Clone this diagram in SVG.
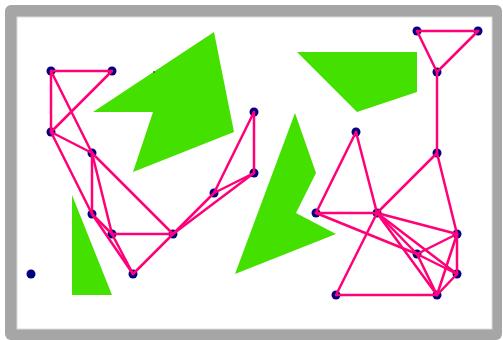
<svg xmlns="http://www.w3.org/2000/svg" width="503" height="340" viewBox="0 0 503 340">
<style>
.obs{fill:#44e000}
.n{fill:#000080}
.e{stroke:#ff0078;stroke-width:2.5;fill:none;stroke-linecap:round}
</style>
<rect x="5" y="5" width="497" height="335" rx="6" fill="#a6a6a6"/>
<rect x="17" y="17" width="475" height="312" fill="#ffffff" stroke="#dcdcdc" stroke-width="1"/>
<g id="obstacles">
<polygon class="obs" points="214,32 234,132 133,172 153,112 93,112"/>
<polygon class="obs" points="72,195 72,295 112,295"/>
<polygon class="obs" points="295,113 316,173 296,213 336,234 235,274"/>
<polygon class="obs" points="297,52 417,52 417,92 357,112"/>
</g>
<g id="nodes">
<g id="nA"><circle class="n" cx="51" cy="71" r="4.5"/></g>
<g id="nB"><circle class="n" cx="112" cy="71" r="4.5"/></g>
<g id="nC"><circle class="n" cx="51" cy="132" r="4.5"/></g>
<g id="nD"><circle class="n" cx="92" cy="153" r="4.5"/></g>
<g id="nE"><circle class="n" cx="92" cy="214" r="4.5"/></g>
<g id="nF"><circle class="n" cx="112" cy="234" r="4.5"/></g>
<g id="nG"><circle class="n" cx="133" cy="274" r="4.5"/></g>
<g id="nH"><circle class="n" cx="173" cy="234" r="4.5"/></g>
<g id="nI"><circle class="n" cx="214" cy="193" r="4.5"/></g>
<g id="nJ"><circle class="n" cx="254" cy="173" r="4.5"/></g>
<g id="nK"><circle class="n" cx="254" cy="112" r="4.5"/></g>
<g id="nL"><circle class="n" cx="31" cy="274" r="4.5"/></g>
<g id="nZ"><circle cx="154" cy="72" r="1" fill="#555"/></g>
<g id="nM"><circle class="n" cx="417" cy="31" r="4.5"/></g>
<g id="nN"><circle class="n" cx="478" cy="31" r="4.5"/></g>
<g id="nO"><circle class="n" cx="437" cy="72" r="4.5"/></g>
<g id="nP"><circle class="n" cx="437" cy="153" r="4.5"/></g>
<g id="nQ"><circle class="n" cx="356" cy="132" r="4.5"/></g>
<g id="nR"><circle class="n" cx="316" cy="213" r="4.5"/></g>
<g id="nS"><circle class="n" cx="377" cy="213" r="4.5"/></g>
<g id="nT"><circle class="n" cx="457" cy="234" r="4.5"/></g>
<g id="nU"><circle class="n" cx="417" cy="254" r="4.5"/></g>
<g id="nV"><circle class="n" cx="457" cy="274" r="4.5"/></g>
<g id="nW"><circle class="n" cx="336" cy="295" r="4.5"/></g>
<g id="nX"><circle class="n" cx="437" cy="295" r="4.5"/></g>
</g>
<g id="connectors" class="e">
<line x1="51" y1="71" x2="112" y2="71"/>
<line x1="51" y1="71" x2="51" y2="132"/>
<line x1="112" y1="71" x2="51" y2="132"/>
<line x1="51" y1="71" x2="92" y2="153"/>
<line x1="51" y1="132" x2="92" y2="153"/>
<line x1="51" y1="132" x2="92" y2="214"/>
<line x1="92" y1="153" x2="92" y2="214"/>
<line x1="92" y1="153" x2="112" y2="234"/>
<line x1="92" y1="153" x2="173" y2="234"/>
<line x1="92" y1="214" x2="112" y2="234"/>
<line x1="92" y1="214" x2="133" y2="274"/>
<line x1="112" y1="234" x2="133" y2="274"/>
<line x1="112" y1="234" x2="173" y2="234"/>
<line x1="133" y1="274" x2="173" y2="234"/>
<line x1="173" y1="234" x2="214" y2="193"/>
<line x1="173" y1="234" x2="254" y2="173"/>
<line x1="214" y1="193" x2="254" y2="173"/>
<line x1="214" y1="193" x2="254" y2="112"/>
<line x1="254" y1="112" x2="254" y2="173"/>
<line x1="417" y1="31" x2="478" y2="31"/>
<line x1="417" y1="31" x2="437" y2="72"/>
<line x1="478" y1="31" x2="437" y2="72"/>
<line x1="437" y1="72" x2="437" y2="153"/>
<line x1="437" y1="153" x2="377" y2="213"/>
<line x1="437" y1="153" x2="457" y2="234"/>
<line x1="356" y1="132" x2="316" y2="213"/>
<line x1="356" y1="132" x2="377" y2="213"/>
<line x1="316" y1="213" x2="377" y2="213"/>
<line x1="316" y1="213" x2="417" y2="254"/>
<line x1="377" y1="213" x2="336" y2="295"/>
<line x1="377" y1="213" x2="457" y2="234"/>
<line x1="377" y1="213" x2="417" y2="254"/>
<line x1="377" y1="213" x2="457" y2="274"/>
<line x1="377" y1="213" x2="437" y2="295"/>
<line x1="417" y1="254" x2="457" y2="234"/>
<line x1="417" y1="254" x2="457" y2="274"/>
<line x1="417" y1="254" x2="437" y2="295"/>
<line x1="457" y1="234" x2="457" y2="274"/>
<line x1="457" y1="234" x2="437" y2="295"/>
<line x1="457" y1="274" x2="437" y2="295"/>
<line x1="336" y1="295" x2="437" y2="295"/>
</g>
</svg>
